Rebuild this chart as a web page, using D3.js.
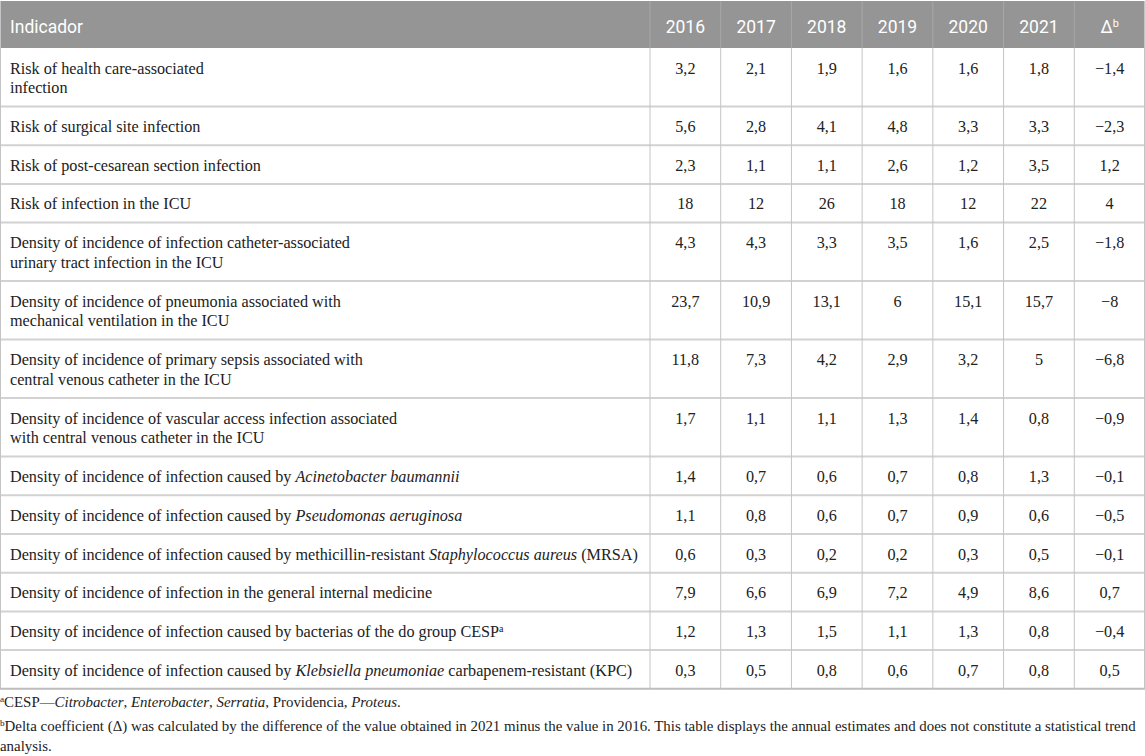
<!DOCTYPE html>
<html>
<head>
<meta charset="utf-8">
<script src="https://cdn.jsdelivr.net/npm/d3@7"></script>
<style>
  body { margin: 0; background: #fff; }
  svg { display: block; }
</style>
</head>
<body>
<div id="table"></div>
<script>
// ---- data ----
// *text* = italic, ^text^ = superscript, | = line break
var indicators = [
  "Risk of health care-associated|infection",
  "Risk of surgical site infection",
  "Risk of post-cesarean section infection",
  "Risk of infection in the ICU",
  "Density of incidence of infection catheter-associated|urinary tract infection in the ICU",
  "Density of incidence of pneumonia associated with|mechanical ventilation in the ICU",
  "Density of incidence of primary sepsis associated with|central venous catheter in the ICU",
  "Density of incidence of vascular access infection associated|with central venous catheter in the ICU",
  "Density of incidence of infection caused by *Acinetobacter baumannii*",
  "Density of incidence of infection caused by *Pseudomonas aeruginosa*",
  "Density of incidence of infection caused by methicillin-resistant *Staphylococcus aureus* (MRSA)",
  "Density of incidence of infection in the general internal medicine",
  "Density of incidence of infection caused by bacterias of the do group CESP^a^",
  "Density of incidence of infection caused by *Klebsiella pneumoniae* carbapenem-resistant (KPC)"
];

var years = ["2016", "2017", "2018", "2019", "2020", "2021"];

var v2016 = [3.2, 5.6, 2.3, 18, 4.3, 23.7, 11.8, 1.7, 1.4, 1.1, 0.6, 7.9, 1.2, 0.3];
var v2017 = [2.1, 2.8, 1.1, 12, 4.3, 10.9, 7.3, 1.1, 0.7, 0.8, 0.3, 6.6, 1.3, 0.5];
var v2018 = [1.9, 4.1, 1.1, 26, 3.3, 13.1, 4.2, 1.1, 0.6, 0.6, 0.2, 6.9, 1.5, 0.8];
var v2019 = [1.6, 4.8, 2.6, 18, 3.5, 6, 2.9, 1.3, 0.7, 0.7, 0.2, 7.2, 1.1, 0.6];
var v2020 = [1.6, 3.3, 1.2, 12, 1.6, 15.1, 3.2, 1.4, 0.8, 0.9, 0.3, 4.9, 1.3, 0.7];
var v2021 = [1.8, 3.3, 3.5, 22, 2.5, 15.7, 5, 0.8, 1.3, 0.6, 0.5, 8.6, 0.8, 0.8];
var delta = [-1.4, -2.3, 1.2, 4, -1.8, -8, -6.8, -0.9, -0.1, -0.5, -0.1, 0.7, -0.4, 0.5];

var footnotes = [
  "^a^CESP\u2014*Citrobacter*, *Enterobacter*, *Serratia*, Providencia, *Proteus*.",
  "^b^Delta coefficient (\u0394) was calculated by the difference of the value obtained in 2021 minus the value in 2016. This table displays the annual estimates and does not constitute a statistical trend",
  "analysis."
];

// ---- layout ----
var W = 1145, H = 756;
var headH = 48, lineH = 19.8, baseOff = 25.5;
var labelX = 10, tableR = 1145, firstCol = 650;

var series = [v2016, v2017, v2018, v2019, v2020, v2021];
var columns = years.concat(["\u0394"]);

var rows = indicators.map(function (s, i) {
  return {
    lines: s.split("|"),
    values: series.map(function (v) { return v[i]; }).concat([delta[i]])
  };
});

// cumulative row heights (1 or 2 text lines)
var y0 = headH;
rows.forEach(function (r) {
  r.top = y0;
  r.h = r.lines.length === 1 ? 38.7 : 58.5;
  y0 += r.h;
});
var tableB = y0;

var x = d3.scaleBand()
  .domain(columns)
  .range([firstCol, tableR]);

function fmt(v) {
  return String(v).replace(".", ",").replace("-", "\u2212");
}

// split marked-up string into tspans
function rich(sel, str) {
  var parts = str.split(/(\*[^*]+\*|\^[^^]+\^)/).filter(function (p) { return p.length; });
  parts.forEach(function (p) {
    if (p[0] === "*") {
      sel.append("tspan").style("font-style", "italic").text(p.slice(1, -1));
    } else if (p[0] === "^") {
      sel.append("tspan").attr("baseline-shift", "super").style("font-size", "62%").text(p.slice(1, -1));
    } else {
      sel.append("tspan").text(p);
    }
  });
}

var svg = d3.select("#table")
  .append("svg")
  .attr("width", W)
  .attr("height", H);

var serif = "'Liberation Serif', 'Times New Roman', serif";
var sans = "Roboto, 'Open Sans', sans-serif";

// header
svg.append("rect")
  .attr("x", 0).attr("y", 1)
  .attr("width", W).attr("height", headH - 1)
  .attr("fill", "#959595");

svg.append("text")
  .attr("x", labelX).attr("y", 33)
  .attr("fill", "#fff")
  .style("font-family", sans).style("font-size", "17.5px")
  .text("Indicador");

var headCells = svg.append("g").selectAll("text")
  .data(columns)
  .enter().append("text")
  .attr("x", function (d) { return x(d) + x.bandwidth() / 2; })
  .attr("y", 33)
  .attr("text-anchor", "middle")
  .attr("fill", "#fff")
  .style("font-family", sans).style("font-size", "17.5px");
headCells.each(function (d) {
  rich(d3.select(this), d === "\u0394" ? "\u0394^b^" : d);
});

// grid lines
var grid = svg.append("g");
grid.selectAll("line.h")
  .data(rows.slice(1))
  .enter().append("line")
  .attr("x1", 0).attr("x2", W)
  .attr("y1", function (r) { return r.top; })
  .attr("y2", function (r) { return r.top; })
  .attr("stroke", "#d2d2d2").attr("stroke-width", 2);

grid.append("line")
  .attr("x1", 0).attr("x2", W)
  .attr("y1", tableB).attr("y2", tableB)
  .attr("stroke", "#bdbdbd").attr("stroke-width", 2);

grid.selectAll("line.v")
  .data(columns)
  .enter().append("line")
  .attr("x1", function (d) { return x(d); })
  .attr("x2", function (d) { return x(d); })
  .attr("y1", headH).attr("y2", tableB)
  .attr("stroke", "#c4c4c4").attr("stroke-width", 1);

grid.selectAll("line.vh")
  .data(columns)
  .enter().append("line")
  .attr("x1", function (d) { return x(d); })
  .attr("x2", function (d) { return x(d); })
  .attr("y1", 1).attr("y2", headH)
  .attr("stroke", "#a8a8a8").attr("stroke-width", 1);

[0.5, W - 0.5].forEach(function (xx) {
  grid.append("line")
    .attr("x1", xx).attr("x2", xx)
    .attr("y1", 1).attr("y2", tableB)
    .attr("stroke", "#c4c4c4").attr("stroke-width", 1);
});

// body rows
var rowG = svg.append("g").selectAll("g")
  .data(rows)
  .enter().append("g")
  .attr("transform", function (r) { return "translate(0," + r.top + ")"; });

rowG.each(function (r) {
  var g = d3.select(this);
  r.lines.forEach(function (ln, k) {
    var t = g.append("text")
      .attr("x", labelX)
      .attr("y", baseOff + k * lineH)
      .attr("fill", "#222")
      .style("font-family", serif).style("font-size", "16.2px");
    rich(t, ln);
  });
  g.selectAll("text.val")
    .data(r.values)
    .enter().append("text")
    .attr("x", function (d, i) { return x(columns[i]) + x.bandwidth() / 2; })
    .attr("y", baseOff)
    .attr("text-anchor", "middle")
    .attr("fill", "#222")
    .style("font-family", serif).style("font-size", "16.2px")
    .text(fmt);
});

// footnotes
var fy = [707, 731, 751];
footnotes.forEach(function (f, i) {
  var t = svg.append("text")
    .attr("x", 0).attr("y", fy[i])
    .attr("fill", "#222")
    .style("font-family", serif).style("font-size", "14.9px");
  rich(t, f);
});
</script>
</body>
</html>
